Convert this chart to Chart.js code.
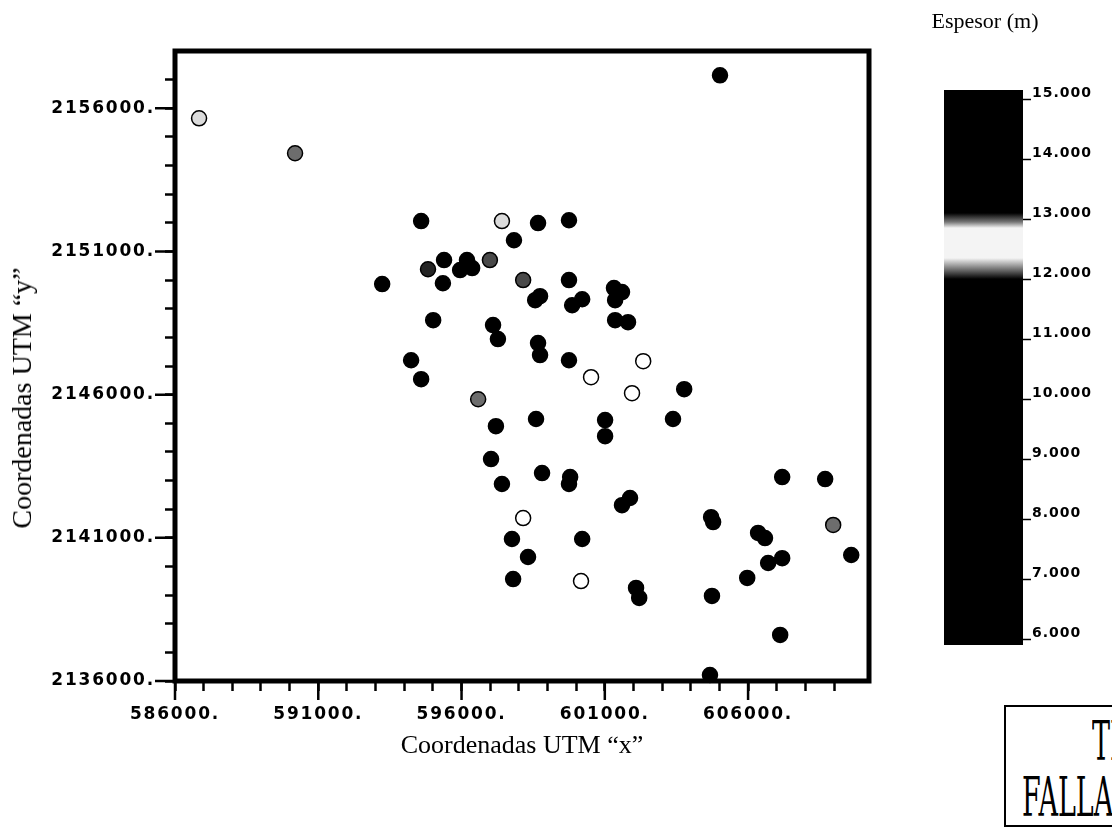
<!DOCTYPE html>
<html>
<head>
<meta charset="utf-8">
<script src="https://cdn.jsdelivr.net/npm/chart.js@4.4.1/dist/chart.umd.min.js"></script>
<style>
  html, body { margin: 0; padding: 0; background: #fff; }
  body { width: 1112px; height: 830px; overflow: hidden; position: relative; }
  #main { position: absolute; left: 0; top: 0; }
  #cbar { position: absolute; left: 900px; top: 0; }
  .t { position: absolute; font-family: "Liberation Serif", "Times New Roman", serif; color: #000; white-space: nowrap; }
  #stamp { position: absolute; left: 1004px; top: 705px; width: 140px; height: 118px; border: 2px solid #000; overflow: hidden; }
  .sl { position: absolute; font-family: "DejaVu Serif", serif; font-size: 54px; line-height: 54px; color: #000; white-space: nowrap; transform-origin: 0 0; transform: scaleX(0.5); }
</style>
</head>
<body>
<canvas id="main" width="900" height="830"></canvas>
<canvas id="cbar" width="212" height="700"></canvas>

<div class="t" id="xtitle" style="left:522px; top:745px; font-size:26px; transform: translate(-50%,-50%);">Coordenadas UTM “x”</div>
<div class="t" id="ytitle" style="left:22px; top:398px; font-size:28px; transform: translate(-50%,-50%) rotate(-90deg);">Coordenadas UTM “y”</div>
<div class="t" id="cbtitle" style="left:985px; top:21px; font-size:22px; transform: translate(-50%,-50%);">Espesor (m)</div>
<div id="stamp">
  <div class="sl" style="left:86px; top:8px;">TESIS CON</div>
  <div class="sl" style="left:16px; top:64px;">FALLA DE ORIGEN</div>
</div>

<script>
// ---------------- data ----------------
const utmX = [
  586840, 590190, 605020, 594590, 597410, 598670, 599750, 597830, 593230, 594830,
  595390, 596190, 595950, 596370, 596990, 595350, 598150, 599750, 598740, 598570,
  599860, 600210, 601320, 601600, 601360, 601360, 601810, 595010, 597100, 597270,
  598670, 598740, 594240, 594590, 599750, 602340, 600520, 601950, 603770, 596580,
  597200, 598600, 601010, 601010, 603380, 597030, 597410, 598810, 599790, 599750,
  601880, 601600, 607190, 608690, 598150, 604710, 604780, 608970, 597760, 600210,
  606350, 606590, 607190, 606700, 609600, 598320, 597800, 600170, 605970, 602090,
  602200, 604740, 607120, 604670
];
const utmY = [
  2155650, 2154430, 2157150, 2152060, 2152060, 2151990, 2152090, 2151390, 2149860, 2150380,
  2150700, 2150700, 2150350, 2150420, 2150700, 2149890, 2150000, 2150000, 2149440, 2149300,
  2149120, 2149330, 2149720, 2149580, 2149300, 2148600, 2148530, 2148600, 2148430, 2147940,
  2147800, 2147380, 2147200, 2146540, 2147200, 2147170, 2146610, 2146050, 2146190, 2145840,
  2144900, 2145150, 2145110, 2144550, 2145150, 2143750, 2142880, 2143260, 2143120, 2142880,
  2142390, 2142140, 2143120, 2143050, 2141690, 2141720, 2141550, 2141450, 2140960, 2140960,
  2141170, 2140990, 2140290, 2140120, 2140400, 2140330, 2139560, 2139490, 2139600, 2139250,
  2138900, 2138970, 2137610, 2136210
];
// espesor (m): black marks = outside the light 12-13 band (shown as 10), grey/white marks inside it
const espesor = [
  12.3, 12.15, 10, 10, 12.3, 10, 10, 10, 10, 12.05,
  10, 10, 10, 10, 12.1, 10, 12.1, 10, 10, 10,
  10, 10, 10, 10, 10, 10, 10, 10, 10, 10,
  10, 10, 10, 10, 10, 12.6, 12.6, 12.6, 10, 12.15,
  10, 10, 10, 10, 10, 10, 10, 10, 10, 10,
  10, 10, 10, 10, 12.6, 10, 10, 12.15, 10, 10,
  10, 10, 10, 10, 10, 10, 10, 12.6, 10, 10,
  10, 10, 10, 10
];

// axes
const xRange = [586000, 610220];
const yRange = [2136000, 2158000];
const xTickValues = [586000,587000,588000,589000,590000,591000,592000,593000,594000,595000,596000,597000,598000,599000,600000,601000,602000,603000,604000,605000,606000,607000,608000,609000];
const yTickValues = [2136000,2137000,2138000,2139000,2140000,2141000,2142000,2143000,2144000,2145000,2146000,2147000,2148000,2149000,2150000,2151000,2152000,2153000,2154000,2155000,2156000,2157000];
const xMajor = [586000, 591000, 596000, 601000, 606000];
const xTickLabels = ['586000.', '591000.', '596000.', '601000.', '606000.'];
const yMajor = [2136000, 2141000, 2146000, 2151000, 2156000];
const yTickLabels = ['2136000.', '2141000.', '2146000.', '2151000.', '2156000.'];

// colour bar
const cbRange = [5.9, 15.15];
const cbTicks = [6, 7, 8, 9, 10, 11, 12, 13, 14, 15];
const cbStops = [12.0, 12.35, 12.85, 13.1]; // black -> white, white, white -> black

// ---------------- helpers ----------------
function shadeFor(v) {
  const [a, b, c, d] = cbStops;
  let t = 0;
  if (v <= a || v >= d) t = 0;
  else if (v < b) t = (v - a) / (b - a);
  else if (v <= c) t = 1;
  else t = (d - v) / (d - c);
  const g = Math.round(255 * t);
  return 'rgb(' + g + ',' + g + ',' + g + ')';
}

const tickFont = { family: 'DejaVu Sans', weight: 'bold', size: 17 };

const spacingPlugin = (px) => ({
  id: 'spacing' + String(px).replace('.', '_'),
  beforeDraw(chart) { chart.ctx.letterSpacing = px + 'px'; }
});

const framePlugin = {
  id: 'frame',
  afterDatasetsDraw(chart) {
    const { ctx, chartArea: a, scales } = chart;
    ctx.save();
    ctx.strokeStyle = '#000';
    ctx.lineWidth = 2.5;
    ctx.beginPath();
    xMajor.forEach(v => {
      const p = scales.x.getPixelForValue(v);
      ctx.moveTo(p, a.bottom); ctx.lineTo(p, a.bottom + 19);
    });
    yMajor.forEach(v => {
      const p = scales.y.getPixelForValue(v);
      ctx.moveTo(a.left, p); ctx.lineTo(a.left - 20, p);
    });
    ctx.stroke();
    ctx.lineWidth = 5;
    ctx.strokeRect(a.left, a.top, a.right - a.left, a.bottom - a.top);
    ctx.restore();
  }
};

// ---------------- main scatter ----------------
new Chart(document.getElementById('main'), {
  type: 'scatter',
  data: {
    datasets: [{
      data: utmX.map((x, i) => ({ x: x, y: utmY[i] })),
      backgroundColor: espesor.map(shadeFor),
      borderColor: '#000',
      borderWidth: 1.5,
      pointRadius: 7.5,
      pointHoverRadius: 7.5,
      clip: false
    }]
  },
  options: {
    responsive: false,
    animation: false,
    events: [],
    layout: { padding: { left: 0, top: 51, right: 31, bottom: 0 } },
    plugins: { legend: { display: false }, tooltip: { enabled: false } },
    scales: {
      x: {
        type: 'linear', min: xRange[0], max: xRange[1],
        afterBuildTicks: s => { s.ticks = xTickValues.map(v => ({ value: v })); },
        afterFit: s => { s.height = 149; },
        ticks: {
          autoSkip: false, maxRotation: 0, minRotation: 0, padding: 13, color: '#000', font: tickFont,
          callback: v => { const i = xMajor.indexOf(v); return i >= 0 ? xTickLabels[i] : ''; }
        },
        grid: { drawOnChartArea: false, drawTicks: true, tickLength: 10, tickWidth: 2.5, tickColor: '#000' },
        border: { display: false }
      },
      y: {
        type: 'linear', min: yRange[0], max: yRange[1],
        afterBuildTicks: s => { s.ticks = yTickValues.map(v => ({ value: v })); },
        afterFit: s => { s.width = 175; },
        ticks: {
          autoSkip: false, padding: 10, color: '#000', font: tickFont,
          callback: v => { const i = yMajor.indexOf(v); return i >= 0 ? yTickLabels[i] : ''; }
        },
        grid: { drawOnChartArea: false, drawTicks: true, tickLength: 10, tickWidth: 2.5, tickColor: '#000' },
        border: { display: false }
      }
    }
  },
  plugins: [spacingPlugin(1.8), framePlugin]
});

// ---------------- colour bar ----------------
function barGradient(context) {
  const chart = context.chart;
  const a = chart.chartArea;
  const ys = chart.scales.y;
  if (!a || !ys) return '#000';
  const top = ys.getPixelForValue(cbRange[1]);
  const bot = ys.getPixelForValue(cbRange[0]);
  const g = chart.ctx.createLinearGradient(0, bot, 0, top);
  const f = v => (v - cbRange[0]) / (cbRange[1] - cbRange[0]);
  g.addColorStop(0, '#000');
  g.addColorStop(f(cbStops[0]), '#000');
  g.addColorStop(f(cbStops[0] + 0.12), '#555');
  g.addColorStop(f(cbStops[1]), '#f4f4f4');
  g.addColorStop(f(cbStops[2]), '#f4f4f4');
  g.addColorStop(f(cbStops[2] + 0.1), '#777');
  g.addColorStop(f(cbStops[3]), '#000');
  g.addColorStop(1, '#000');
  return g;
}

new Chart(document.getElementById('cbar'), {
  type: 'bar',
  data: {
    labels: ['Espesor'],
    datasets: [{
      data: [[cbRange[0], cbRange[1]]],
      backgroundColor: barGradient,
      borderWidth: 0,
      barPercentage: 1,
      categoryPercentage: 1
    }]
  },
  options: {
    responsive: false,
    animation: false,
    events: [],
    layout: { padding: { left: 44, top: 90, right: 0, bottom: 55 } },
    plugins: { legend: { display: false }, tooltip: { enabled: false } },
    scales: {
      x: { display: false },
      y: {
        position: 'right', min: cbRange[0], max: cbRange[1],
        afterBuildTicks: s => { s.ticks = cbTicks.map(v => ({ value: v })); },
        afterFit: s => { s.width = 89; },
        ticks: {
          labelOffset: -6, padding: 1, color: '#000',
          font: { family: 'DejaVu Sans', weight: 'bold', size: 14 },
          callback: v => Number(v).toFixed(3)
        },
        grid: { drawOnChartArea: false, drawTicks: true, tickLength: 8, tickWidth: 1.5, tickColor: '#000' },
        border: { display: false }
      }
    }
  },
  plugins: [spacingPlugin(1)]
});
</script>
</body>
</html>
